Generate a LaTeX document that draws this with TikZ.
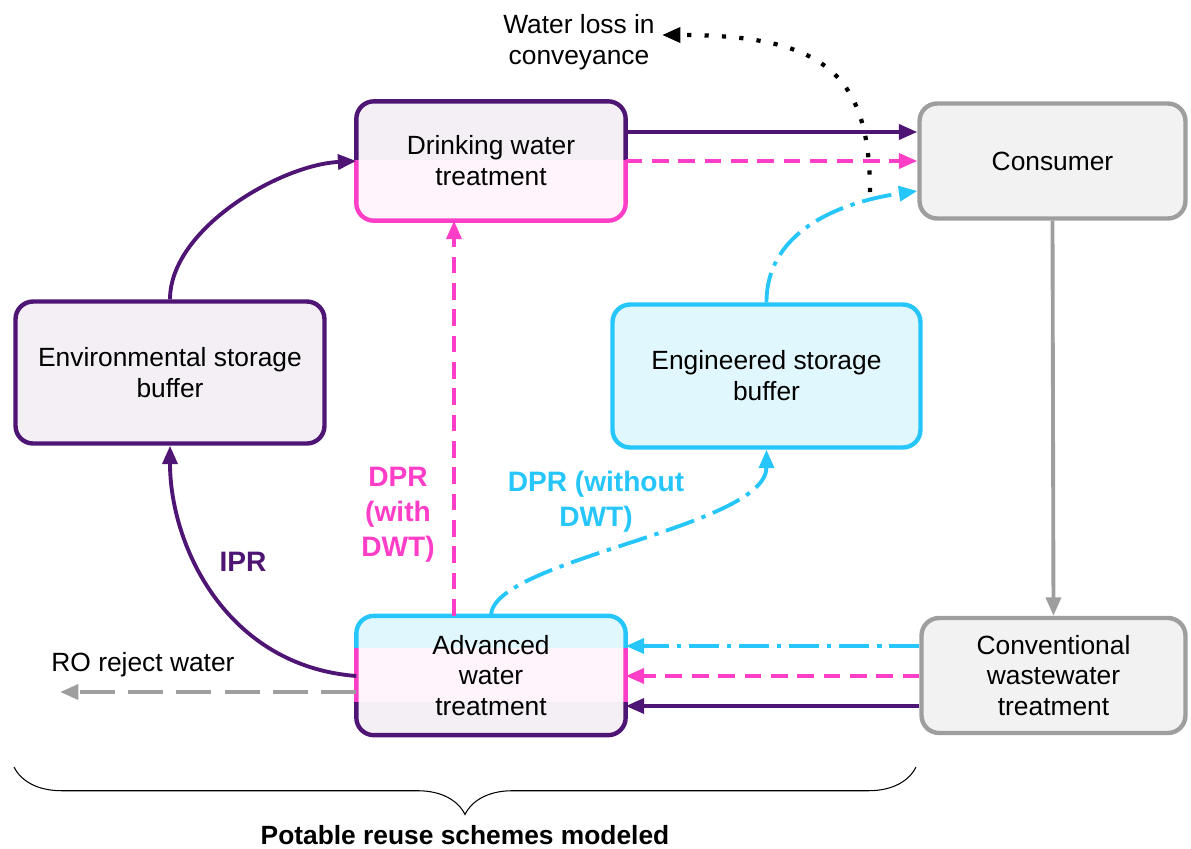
\documentclass[tikz,border=0pt]{standalone}
\usepackage{fontspec}
\setmainfont{Liberation Sans}
\usetikzlibrary{arrows.meta}
\usetikzlibrary{decorations.pathreplacing}
\usetikzlibrary{backgrounds}

\definecolor{ipr}{RGB}{78,21,117}
\definecolor{dprw}{RGB}{255,62,200}
\definecolor{dpro}{RGB}{38,198,250}
\definecolor{conv}{RGB}{158,158,158}

\tikzset{
  box/.style={rectangle, rounded corners=10pt, line width=2.5pt, align=center,
    font=\fontsize{15}{17.6}\selectfont, inner sep=0pt},
  split/.style={line width=2.5pt, rounded corners=10pt},
  txt/.style={align=center, font=\fontsize{15}{17.6}\selectfont, inner sep=4pt},
  lbl/.style={align=center, font=\fontsize{16}{20}\selectfont\bfseries},
  flow/.style={line width=2.2pt, -{Triangle[length=10.5pt,width=8.5pt]}},
  withdwt/.style={flow, dprw, dash pattern=on 9.5pt off 5.5pt},
  nodwt/.style={flow, dpro, dash pattern=on 17pt off 4.5pt on 2.5pt off 4.5pt},
}

\begin{document}
\begin{tikzpicture}[x=0.02cm, y=-0.02cm]
\useasboundingbox (0,0) rectangle (1191,849);

% boxes
\node[box, minimum width=5.3cm, minimum height=2.3cm] (DWT) at (491,161) {Drinking water\\treatment};
\node[box, minimum width=5.3cm, minimum height=2.3cm] (AWT) at (491,675.5) {Advanced\\water\\treatment};
\node[box, draw=conv, fill=conv!13, minimum width=5.32cm, minimum height=2.3cm] (CON) at (1052.5,161) {Consumer};
\node[box, draw=conv, fill=conv!13, minimum width=5.28cm, minimum height=2.3cm] (CWT) at (1053.5,675.5) {Conventional\\wastewater\\treatment};
\node[box, draw=ipr, fill=ipr!7, minimum width=6.18cm, minimum height=2.84cm] (ENV) at (170,372.5) {Environmental storage\\buffer};
\node[box, draw=dpro, fill=dpro!14, minimum width=6.16cm, minimum height=2.86cm] (ENG) at (766.5,376) {Engineered storage\\buffer};

% split borders
\begin{scope}[on background layer]
\begin{scope}
\clip (340,90) rectangle (640,160);
\draw[split, ipr, fill=ipr!7] (DWT.north west) rectangle (DWT.south east);
\end{scope}
\begin{scope}
\clip (340,160) rectangle (640,235);
\draw[split, dprw, fill=dprw!6] (DWT.north west) rectangle (DWT.south east);
\end{scope}
\begin{scope}
\clip (340,600) rectangle (640,648);
\draw[split, dpro, fill=dpro!14] (AWT.north west) rectangle (AWT.south east);
\end{scope}
\begin{scope}
\clip (340,648) rectangle (640,702);
\draw[split, dprw, fill=dprw!6] (AWT.north west) rectangle (AWT.south east);
\end{scope}
\begin{scope}
\clip (340,702) rectangle (640,750);
\draw[split, ipr, fill=ipr!7] (AWT.north west) rectangle (AWT.south east);
\end{scope}
\end{scope}

% free ends and labels
\coordinate (leak) at (870,192);
\coordinate (reject) at (60,692);
\node[txt] (loss) at (579,42) {Water loss in\\conveyance};
\node[txt] (ro) at (143,665) {RO reject water};
\node[lbl, ipr] (IPRlbl) at (243,562) {IPR};
\node[lbl, dprw] (WITHlbl) at (398,515) {DPR\\(with\\DWT)};
\node[lbl, dpro] (NOlbl) at (596,502) {DPR (without\\DWT)};

% to consumer
\draw[flow, ipr] (DWT.east |- 0,132) -- (CON.west |- 0,132);
\draw[withdwt] (DWT.east) -- (CON.west);
\draw[nodwt] (ENG.north) .. controls +(0,-75) and +(-70,10) .. (CON.west |- 0,191);
\draw[line width=2.4pt, dash pattern=on 2.4pt off 7.5pt, -{Triangle[length=10.5pt,width=8.5pt]}]
  (leak) .. controls +(0,-120) and +(160,0) .. (loss.east |- 0,35);

% wastewater
\draw[flow, conv] (CON.south) -- (CWT.north);
\draw[nodwt] (CWT.west |- 0,646) -- (AWT.east |- 0,646);
\draw[withdwt] (CWT.west |- 0,676) -- (AWT.east |- 0,676);
\draw[flow, ipr] (CWT.west |- 0,706) -- (AWT.east |- 0,706);

% reuse paths
\draw[flow, ipr] (AWT.west |- 0,676) .. controls +(-130,-10) and +(0,100) .. (ENV.south);
\draw[flow, ipr] (ENV.north) .. controls +(0,-70) and +(-77,4) .. (DWT.west);
\draw[withdwt] (AWT.north -| 454,0) -- (DWT.south -| 454,0);
\draw[nodwt] (AWT.north) .. controls +(0,-56) and +(0,78) .. (ENG.south);
\draw[flow, conv, dash pattern=on 20pt off 7.5pt] (AWT.west |- 0,692) -- (reject);

% brace
\draw[decorate, decoration={brace, mirror, amplitude=27pt}, line width=0.6pt] (14,767) -- (916,767);
\node[font=\fontsize{15}{18}\selectfont\bfseries] (caption) at (465,835) {Potable reuse schemes modeled};

\end{tikzpicture}
\end{document}
